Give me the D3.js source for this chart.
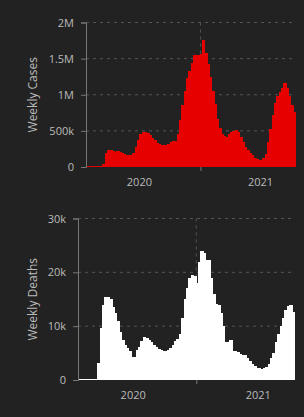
<!DOCTYPE html>
<html>
<head>
<meta charset="utf-8">
<script src="https://cdn.jsdelivr.net/npm/d3@7"></script>
<style>
  html, body { margin: 0; padding: 0; background: #222; }
  svg { display: block; }
  text { font-family: "Open Sans", sans-serif; }
</style>
</head>
<body>
<div id="chart"></div>
<script>
// ===== Data =====
const weekStart = "2020-01-22";
const yearLabels = ["2020", "2021"];
const caseTicks = [0, 500000, 1000000, 1500000, 2000000];
const deathTicks = [0, 10000, 20000, 30000];

// weekly values in thousands
const weeklyCasesK = [
  0, 0, 0, 0, 0, 0, 0, 40,
  200, 235, 230, 225, 210, 215, 210, 195, 175, 165, 160, 170,
  200, 280, 380, 450, 480, 490, 470, 440, 400, 370,
  335, 320, 305, 300, 310, 320, 340, 355, 360, 450,
  650, 860, 1050, 1230, 1330, 1440, 1550, 1550, 1550, 1560,
  1760, 1580, 1420, 1250, 1050, 870, 660, 540, 450, 430,
  420, 450, 480, 500, 515, 480, 420, 350, 280, 230,
  195, 160, 125, 110, 100, 100, 120, 180, 340, 530,
  720, 890, 980, 1040, 1100, 1160, 1100, 980, 860, 760
];
const weeklyDeathsK = [
  0, 0, 0, 0, 0, 0, 0, 0,
  3.1, 9.7, 14.0, 15.5, 15.5, 15.0, 13.5, 12.5, 11.0, 9.0, 7.5, 6.5,
  5.9, 5.3, 4.2, 4.3, 5.6, 6.2, 7.2, 8.0, 7.8, 7.4,
  7.0, 6.5, 6.2, 5.7, 5.5, 5.4, 5.3, 5.5, 6.0, 6.5,
  7.2, 7.6, 8.6, 11.5, 15.0, 17.0, 19.0, 19.5, 19.3, 18.0,
  22.0, 24.0, 23.5, 22.3, 22.3, 19.0, 16.0, 14.2, 13.9, 12.5,
  10.0, 7.1, 7.0, 7.4, 5.3, 5.3, 5.2, 4.9, 4.6, 4.6,
  4.0, 3.5, 2.9, 2.6, 2.2, 2.2, 2.1, 2.2, 2.5, 2.9,
  4.0, 5.0, 7.0, 8.5, 10.0, 11.5, 13.0, 13.8, 14.0, 12.7
];

// ===== Build weekly rows =====
const start = d3.timeParse("%Y-%m-%d")(weekStart);
const weeks = weeklyCasesK.map((v, i) => ({
  date: d3.timeDay.offset(start, 7 * i),
  cases: v * 1000,
  deaths: weeklyDeathsK[i] * 1000
}));
const endDate = d3.timeDay.offset(start, 7 * weeks.length);

const W = 304, H = 417;
const svg = d3.select("#chart").append("svg")
  .attr("width", W).attr("height", H);

svg.append("rect").attr("width", W).attr("height", H).attr("fill", "#222");

function drawPanel(opts) {
  const { key, ticks, color, title, left, right, top, bottom } = opts;

  const x = d3.scaleTime().domain([start, endDate]).range([left, right]);
  const y = d3.scaleLinear().domain([0, ticks[ticks.length - 1]]).range([bottom, top]);

  const g = svg.append("g");

  // horizontal grid
  g.append("g")
    .selectAll("line")
    .data(ticks.slice(1))
    .enter().append("line")
    .attr("x1", left).attr("x2", right - 3)
    .attr("y1", d => y(d)).attr("y2", d => y(d))
    .attr("stroke", "#555")
    .attr("stroke-dasharray", "3,4");

  // year boundaries inside the domain
  const yearStarts = d3.timeYear.range(start, endDate);

  // vertical grid at year boundaries
  g.append("g")
    .selectAll("line")
    .data(yearStarts)
    .enter().append("line")
    .attr("x1", d => x(d)).attr("x2", d => x(d))
    .attr("y1", top).attr("y2", bottom)
    .attr("stroke", "#555")
    .attr("stroke-dasharray", "3,4");

  // bars
  const barW = x(d3.timeDay.offset(start, 7)) - x(start);
  g.append("g")
    .attr("shape-rendering", "crispEdges")
    .selectAll("rect")
    .data(weeks)
    .enter().append("rect")
    .attr("x", d => x(d.date))
    .attr("width", barW + 1)
    .attr("y", d => Math.min(y(d[key]), bottom - 1.5))
    .attr("height", d => Math.max(bottom - y(d[key]), 1.5))
    .attr("fill", color);

  // y axis
  const yAxis = g.append("g")
    .attr("transform", `translate(${left},0)`)
    .call(d3.axisLeft(y).tickValues(ticks).tickFormat(d3.format("~s")).tickSize(5).tickPadding(7));
  yAxis.select(".domain").attr("stroke", "#777");
  yAxis.selectAll(".tick line").attr("stroke", "#777");
  yAxis.selectAll("text").attr("fill", "#bbb").style("font-size", "11px")
    .style("font-family", '"Open Sans", sans-serif');

  // x axis: ticks at year boundaries, labels centred on mid-year
  const xAxis = g.append("g")
    .attr("transform", `translate(0,${bottom})`)
    .call(d3.axisBottom(x).tickValues(yearStarts).tickFormat("").tickSize(4));
  xAxis.select(".domain").remove();
  xAxis.selectAll(".tick line").attr("stroke", "#777");

  g.append("g")
    .selectAll("text")
    .data(yearLabels)
    .enter().append("text")
    .attr("x", d => x(new Date(+d, 6, 1)))
    .attr("y", bottom + 19)
    .attr("text-anchor", "middle")
    .attr("fill", "#bbb")
    .style("font-size", "11px")
    .text(d => d);

  // axis title
  g.append("text")
    .attr("transform", `translate(37,${(top + bottom) / 2}) rotate(-90)`)
    .attr("text-anchor", "middle")
    .attr("fill", "#bbb")
    .style("font-size", "12px")
    .text(title);
}

drawPanel({ key: "cases", ticks: caseTicks, color: "#e60000", title: "Weekly Cases",
  left: 86, right: 295, top: 22.5, bottom: 167 });
drawPanel({ key: "deaths", ticks: deathTicks, color: "#ffffff", title: "Weekly Deaths",
  left: 78, right: 294, top: 218.5, bottom: 380 });
</script>
</body>
</html>
